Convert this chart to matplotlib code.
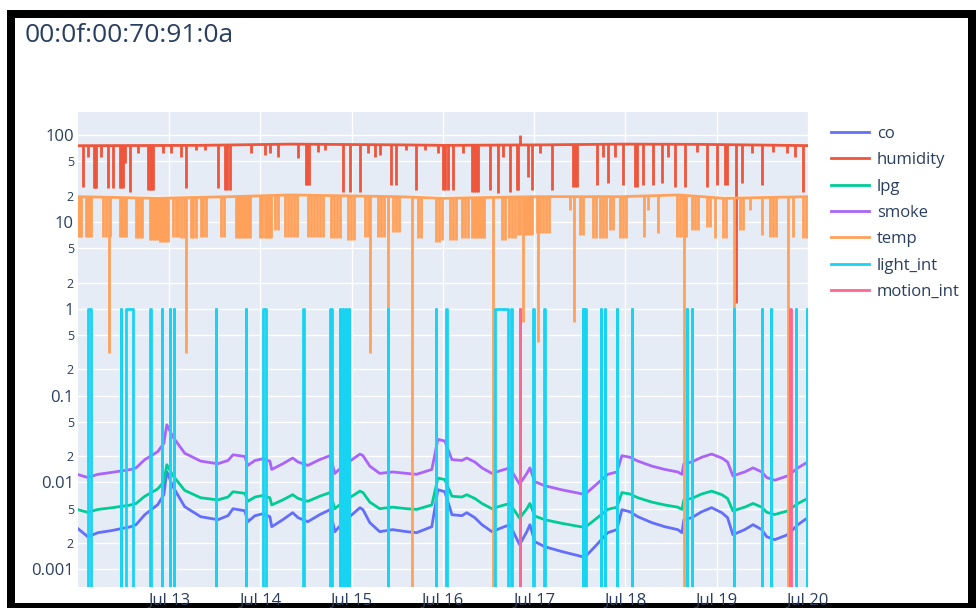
import numpy as np
import pandas as pd
import matplotlib.pyplot as plt
import matplotlib.dates as mdates
from matplotlib.patches import Rectangle

plt.rcParams['font.family'] = ['Open Sans', 'DejaVu Sans']

start = pd.Timestamp('2020-07-12 00:00')
t_first, t_last = 0.03, 192.06   # hours after Jul 12 00:00 of first / last reading

# gas sensor readings (hours after Jul 12 00:00)
gas_h = [0.05, 2.6, 5.3, 8.7, 13.9, 15.3, 17.6, 21.0, 22.6, 23.4,
         25.0, 28.1, 32.3, 36.8, 39.5, 40.8, 43.9, 44.7, 46.6, 48.7,
         50.5, 51.0, 53.9, 56.5, 57.9, 60.5, 63.6, 66.3, 67.6, 69.7,
         74.2, 75.0, 76.8, 79.4, 82.8, 86.5, 89.1, 93.1, 94.7, 96.5,
         98.4, 101.0, 102.3, 104.4, 106.3, 108.9, 111.5, 113.6, 116.2, 118.1,
         118.9, 120.2, 122.8, 127.3, 132.6, 133.3, 136.0, 139.4, 141.8, 143.1,
         145.2, 147.3, 151.0, 154.4, 157.8, 158.9, 159.4, 161.5, 164.1, 166.7,
         169.4, 170.9, 172.3, 175.4, 177.6, 179.9, 181.2, 183.3, 186.7, 189.4,
         192.0]
co = [0.00293, 0.00237, 0.00264, 0.00278, 0.00309, 0.00326, 0.00425, 0.00554, 0.00722, 0.0133,
      0.00893, 0.00525, 0.00403, 0.00372, 0.00414, 0.00498, 0.00472, 0.00353, 0.00414, 0.00436,
      0.00403, 0.00309, 0.00372, 0.00448, 0.00393, 0.00353, 0.00425, 0.00485, 0.00271, 0.00344,
      0.00512, 0.00485, 0.00344, 0.00271, 0.00286, 0.00271, 0.00264, 0.00309, 0.00824, 0.00782,
      0.00425, 0.00414, 0.00448, 0.00393, 0.00326, 0.00271, 0.00301, 0.00326, 0.00192, 0.00271,
      0.00326, 0.00208, 0.00182, 0.0016, 0.0014, 0.00137, 0.00182, 0.00264, 0.00286, 0.00485,
      0.0046, 0.00403, 0.00344, 0.00309, 0.00286, 0.00264, 0.00372, 0.00393, 0.0046, 0.00512,
      0.00448, 0.00393, 0.0025, 0.00286, 0.00326, 0.00286, 0.00237, 0.00219, 0.0025, 0.00326,
      0.00393]
lpg = [0.00485, 0.00453, 0.00489, 0.00509, 0.0055, 0.00572, 0.00693, 0.00842, 0.0102, 0.016,
       0.012, 0.00809, 0.00666, 0.00629, 0.00679, 0.0078, 0.00749, 0.00606, 0.00679, 0.00707,
       0.00666, 0.0055, 0.00629, 0.00722, 0.00654, 0.00606, 0.00693, 0.00764, 0.00498, 0.00593,
       0.00794, 0.00764, 0.00593, 0.00498, 0.00519, 0.00498, 0.00489, 0.0055, 0.0112, 0.0108,
       0.00693, 0.00679, 0.00722, 0.00654, 0.00572, 0.00498, 0.0054, 0.00572, 0.00387, 0.00498,
       0.00572, 0.0041, 0.00372, 0.00338, 0.00307, 0.00301, 0.00372, 0.00489, 0.00519, 0.00764,
       0.00736, 0.00666, 0.00593, 0.0055, 0.00519, 0.00489, 0.00629, 0.00654, 0.00736, 0.00794,
       0.00722, 0.00654, 0.0047, 0.00519, 0.00572, 0.00519, 0.00453, 0.00427, 0.0047, 0.00572,
       0.00654]
smoke = [0.0123, 0.0114, 0.0124, 0.013, 0.0141, 0.0147, 0.0183, 0.0226, 0.0282, 0.0461,
         0.0334, 0.0217, 0.0176, 0.0164, 0.0179, 0.0208, 0.0199, 0.0157, 0.0179, 0.0187,
         0.0176, 0.0141, 0.0164, 0.0191, 0.0172, 0.0157, 0.0183, 0.0203, 0.0127, 0.0154,
         0.0212, 0.0203, 0.0154, 0.0127, 0.0132, 0.0127, 0.0124, 0.0141, 0.0313, 0.030,
         0.0183, 0.0179, 0.0191, 0.0172, 0.0147, 0.0127, 0.0138, 0.0147, 0.00956, 0.0127,
         0.0147, 0.0102, 0.00917, 0.00822, 0.00738, 0.00722, 0.00917, 0.0124, 0.0132, 0.0203,
         0.0195, 0.0176, 0.0154, 0.0141, 0.0132, 0.0124, 0.0164, 0.0172, 0.0195, 0.0212,
         0.0191, 0.0172, 0.0119, 0.0132, 0.0147, 0.0132, 0.0114, 0.0106, 0.0119, 0.0147,
         0.0172]

# humidity: slow level plus short glitch readings
hum_h = [0.03, 32, 56, 85, 96.5, 122, 143, 164, 192.06]
hum_level = [75.3, 76.0, 78.5, 77.0, 76.0, 77.0, 78.5, 78.0, 75.5]
hum_glitch_h = [1.3, 2.6, 4.2, 4.5, 4.7, 6.1, 7.9, 9.2, 11.0, 11.4, 11.8, 12.4, 13.7, 15.8,
                18.4, 18.9, 19.3, 19.7, 22.4, 24.5, 27.1, 28.4, 31.0, 33.4, 36.8, 38.7, 39.3,
                40.0, 45.5, 49.2, 50.5, 52.6, 57.9, 60.0, 60.4, 60.8, 63.1, 65.0, 69.7, 71.5,
                74.2, 76.3, 78.1, 79.4, 82.3, 83.6, 86.3, 88.9, 91.3, 94.7, 96.0, 96.5, 97.3,
                98.6, 101.3, 103.6, 104.2, 104.7, 105.2, 108.4, 110.5, 111.8, 113.6, 115.5,
                115.9, 116.3, 118.4, 119.4, 121.5, 124.7, 130.2, 130.7, 131.3, 136.5, 138.1,
                139.4, 141.3, 143.4, 146.5, 147.0, 148.6, 151.3, 153.6, 155.2, 157.0, 159.6,
                162.8, 165.4, 168.1, 170.2, 170.8, 173.1, 174.6, 177.3, 179.9, 182.8, 186.5,
                188.6, 190.7]
hum_glitch_v = [25.4, 55.8, 24.6, 24.6, 24.6, 55.8, 24.6, 24.6, 24.6, 24.6, 24.6, 47.6, 22.1, 62.1,
                23.3, 23.3, 23.3, 23.3, 62.1, 62.1, 55.8, 24.6, 67.2, 67.2, 24.6, 23.3, 23.3,
                23.3, 62.1, 58.9, 62.1, 55.8, 54.3, 26.6, 26.6, 26.6, 63.7, 67.2, 22.1, 22.1,
                22.1, 62.1, 55.8, 58.9, 26.6, 26.6, 67.2, 23.3, 67.2, 62.1, 23.3, 23.3, 23.3,
                23.3, 62.1, 22.1, 22.1, 22.1, 22.1, 23.3, 21.5, 55.8, 22.1, 23.3,
                23.3, 100.0, 32.9, 23.3, 62.1, 23.3, 25.2, 25.2, 25.2, 26.6, 55.8,
                28.1, 55.8, 26.6, 25.2, 25.2, 26.6, 26.6, 28.1, 55.8, 25.2, 25.2,
                63.7, 25.2, 26.6, 26.6, 26.6, 1.17, 28.1, 62.1, 26.6, 63.7, 62.1,
                55.8, 22.1]

# temperature: slow level plus glitch readings (0 = sensor returned zero)
temp_h = [0.03, 21, 40, 56, 84, 96, 120, 143, 158, 170, 192.06]
temp_level = [19.5, 18.7, 19.5, 20.4, 19.5, 18.7, 19.5, 19.5, 20.4, 18.7, 19.5]
temp_glitch_h = [0.13, 0.5, 0.9, 2.1, 2.6, 3.0, 3.4, 6.6, 7.4, 8.1, 8.4, 11.0, 11.6, 12.1, 12.6,
                 15.3, 15.8, 16.3, 16.8, 18.9, 19.5, 20.0, 20.5, 21.0, 21.6, 22.1, 22.6, 23.1,
                 23.7, 25.0, 25.7, 26.3, 27.1, 27.9, 28.4, 29.7, 30.3, 31.1, 32.4, 33.0, 33.7,
                 37.6, 38.4, 41.6, 42.1, 42.6, 43.2, 43.7, 44.2, 44.7, 45.3, 47.9, 48.4, 49.1,
                 49.7, 50.4, 50.8, 51.8, 52.6, 54.5, 55.3, 56.0, 56.8, 57.6, 60.5, 61.3, 62.1,
                 62.9, 63.7, 64.5, 66.6, 67.4, 68.2, 69.0, 71.0, 71.8, 72.6, 75.5, 76.3, 76.8,
                 78.9, 79.7, 80.5, 81.6, 82.9, 83.7, 84.4, 87.9, 89.5, 90.2, 94.2, 95.0, 95.8,
                 97.9, 98.7, 99.5, 101.0, 101.8, 102.6, 103.6, 104.2, 104.7, 105.2, 105.8, 106.3,
                 106.8, 109.2, 111.5, 112.3, 113.4, 114.2, 115.0, 115.8, 116.3, 117.0, 117.4,
                 117.9, 118.4, 118.9, 119.5, 120.8, 121.1, 121.5, 122.3, 123.1, 123.9, 129.4,
                 130.6, 132.1, 132.9, 135.5, 136.3, 137.3, 138.1, 138.9, 140.0, 140.7, 142.6,
                 143.4, 144.2, 148.9, 149.9, 152.6, 157.6, 158.4, 159.2, 159.5, 160.0, 161.6,
                 162.3, 163.1, 165.5, 166.3, 167.6, 169.7, 170.5, 172.6, 174.3, 175.0, 176.8,
                 180.0, 182.0, 182.8, 183.6, 186.7, 188.1, 190.7, 191.5]
temp_glitch_v = [6.7, 6.7, 6.7, 6.7, 6.7, 6.7, 6.7, 6.7, 6.7, 0.31, 6.7, 6.7, 6.7, 6.7, 6.7,
                 6.53, 6.53, 6.53, 6.53, 6.18, 6.18, 6.18, 6.18, 6.18, 5.87, 5.87, 5.87, 5.87,
                 5.87, 6.7, 6.7, 6.7, 6.53, 6.53, 0.31, 6.53, 6.53, 6.53, 6.7, 6.7, 6.7,
                 6.7, 6.7, 6.53, 6.53, 6.53, 6.53, 6.53, 6.53, 6.53, 6.53, 6.53, 6.53, 6.53,
                 6.53, 6.53, 6.53, 8.07, 8.07, 6.7, 6.7, 6.7, 6.7, 6.7, 6.7, 6.7, 6.7,
                 6.7, 6.7, 6.7, 6.53, 6.53, 6.53, 6.53, 6.18, 6.18, 6.18, 6.7, 6.7, 0.31,
                 6.7, 6.7, 6.7, 0.0, 7.65, 7.65, 7.65, 0.0, 6.53, 6.53, 5.87, 5.87, 6.18,
                 6.18, 6.18, 6.18, 6.53, 6.53, 6.53, 6.53, 6.53, 6.53, 6.53, 6.53, 6.53,
                 6.53, 0.0, 6.18, 6.18, 6.53, 6.53, 6.53, 7.06, 7.06, 0.70, 7.06,
                 7.06, 7.06, 7.06, 7.06, 7.45, 0.415, 7.45, 7.45, 7.45, 7.45, 13.7,
                 0.70, 7.06, 7.06, 6.53, 6.53, 6.53, 6.53, 6.53, 8.07, 8.07, 6.53,
                 6.53, 6.53, 6.7, 13.7, 7.45, 6.7, 6.7, 6.7, 0.0, 6.7, 8.07,
                 8.07, 8.07, 8.73, 8.73, 6.53, 6.53, 6.53, 0.415, 8.07, 8.07, 13.7,
                 7.06, 6.7, 6.7, 6.7, 0.0, 6.7, 6.53, 6.53]

# light_int / motion_int switch on and off (hours)
light_on = [2.7, 11.35, 12.6, 19.05, 22.05, 24.15, 25.25, 36.25, 44.25, 48.6, 59.25, 66.3,
            68.95, 69.65, 70.45, 71.25, 81.55, 94.15, 96.95, 109.8, 114.05, 119.85, 122.65,
            132.75, 133.45, 137.55, 138.55, 141.75, 145.75, 160.15, 161.45, 172.55, 179.85,
            182.25, 188.85, 191.75]
light_off = [3.4, 11.45, 14.5, 19.15, 22.15, 24.25, 25.35, 36.35, 44.35, 49.6, 59.35, 66.8,
             69.05, 69.75, 70.55, 71.35, 81.65, 94.25, 97.05, 113.2, 114.15, 119.95, 122.75,
             132.85, 133.55, 137.65, 138.65, 141.85, 145.85, 160.25, 161.55, 172.65, 179.95,
             182.35, 188.95, 191.85]
motion_on = [116.25, 187.45]
motion_off = [116.35, 187.55]

colors = {'co': '#636EFA', 'humidity': '#EF553B', 'lpg': '#00CC96', 'smoke': '#AB63FA',
          'temp': '#FFA15A', 'light_int': '#19D3F3', 'motion_int': '#FF6692'}
text_color = '#2a3f5f'
lw = 2.0


def to_time(h):
    return start + pd.to_timedelta(np.asarray(h, dtype=float), unit='h')


def switch_series(on, off):
    h, v = [t_first], [0]
    for a, b in zip(on, off):
        h += [a, a, b, b]
        v += [0, 1, 1, 0]
    h.append(t_last)
    v.append(0)
    return h, v


fig = plt.figure(figsize=(9.76, 6.08), dpi=100, facecolor='white')
# black screenshot frame
fig.patches.append(Rectangle((7 / 976, 0), 969 / 976, 598 / 608, transform=fig.transFigure,
                             facecolor='black', edgecolor='none', zorder=-10))
fig.patches.append(Rectangle((15 / 976, 5 / 608), 953 / 976, 585 / 608, transform=fig.transFigure,
                             facecolor='white', edgecolor='none', zorder=-9))

ax = fig.add_axes([78 / 976, 21 / 608, 730 / 976, 475 / 608])
ax.set_facecolor('#E5ECF6')
ax.set_yscale('log', nonpositive='clip')

handles = []
z = 2
l, = ax.plot(to_time(gas_h), co, color=colors['co'], lw=lw, zorder=z)
handles.append(l)

z += 1
hum_top = np.interp(hum_glitch_h, hum_h, hum_level)
l, = ax.plot(to_time(hum_h), hum_level, color=colors['humidity'], lw=lw, zorder=z)
ax.vlines(to_time(hum_glitch_h), hum_glitch_v, hum_top, color=colors['humidity'], lw=lw, zorder=z)
handles.append(l)

z += 1
l, = ax.plot(to_time(gas_h), lpg, color=colors['lpg'], lw=lw, zorder=z)
handles.append(l)
z += 1
l, = ax.plot(to_time(gas_h), smoke, color=colors['smoke'], lw=lw, zorder=z)
handles.append(l)

z += 1
temp_top = np.interp(temp_glitch_h, temp_h, temp_level)
l, = ax.plot(to_time(temp_h), temp_level, color=colors['temp'], lw=lw, zorder=z)
ax.vlines(to_time(temp_glitch_h), temp_glitch_v, temp_top, color=colors['temp'], lw=lw, zorder=z)
handles.append(l)

z += 1
lh, lv = switch_series(light_on, light_off)
l, = ax.plot(to_time(lh), lv, color=colors['light_int'], lw=lw, zorder=z)
handles.append(l)
z += 1
mh, mv = switch_series(motion_on, motion_off)
l, = ax.plot(to_time(mh), mv, color=colors['motion_int'], lw=lw, zorder=z)
handles.append(l)

ax.set_xlim(to_time([t_first])[0], to_time([t_last])[0])
ax.set_ylim(6.25e-4, 184)

major = [0.001, 0.01, 0.1, 1, 10, 100]
major_labels = ['0.001', '0.01', '0.1', '1', '10', '100']
minor = [0.002, 0.005, 0.02, 0.05, 0.2, 0.5, 2, 5, 20, 50]
minor_labels = ['2', '5'] * 5
ax.set_yticks(major, major_labels)
ax.set_yticks(minor, minor_labels, minor=True)
ax.tick_params(axis='y', which='major', length=0, pad=3, labelsize=12, labelcolor=text_color)
ax.tick_params(axis='y', which='minor', length=0, pad=3, labelsize=9, labelcolor=text_color)

ax.xaxis.set_major_locator(mdates.DayLocator())
ax.xaxis.set_major_formatter(mdates.DateFormatter('%b %d'))
ax.tick_params(axis='x', length=0, pad=4, labelsize=12, labelcolor=text_color)

ax.grid(True, which='both', color='white', lw=1.0, zorder=1)
ax.set_axisbelow(True)
for s in ax.spines.values():
    s.set_visible(False)

fig.text(25 / 976, 1 - 36 / 608, '00:0f:00:70:91:0a', fontsize=19, color=text_color,
         va='center', ha='left')

leg = fig.legend(handles, list(colors.keys()), loc='upper left',
                 bbox_to_anchor=(831 / 976, 1 - 126 / 608), frameon=False, fontsize=12,
                 handlelength=2.25, handletextpad=0.5, labelspacing=0.62,
                 borderaxespad=0, borderpad=0)
for t in leg.get_texts():
    t.set_color(text_color)

fig.savefig('out.png', dpi=100, facecolor='white')
